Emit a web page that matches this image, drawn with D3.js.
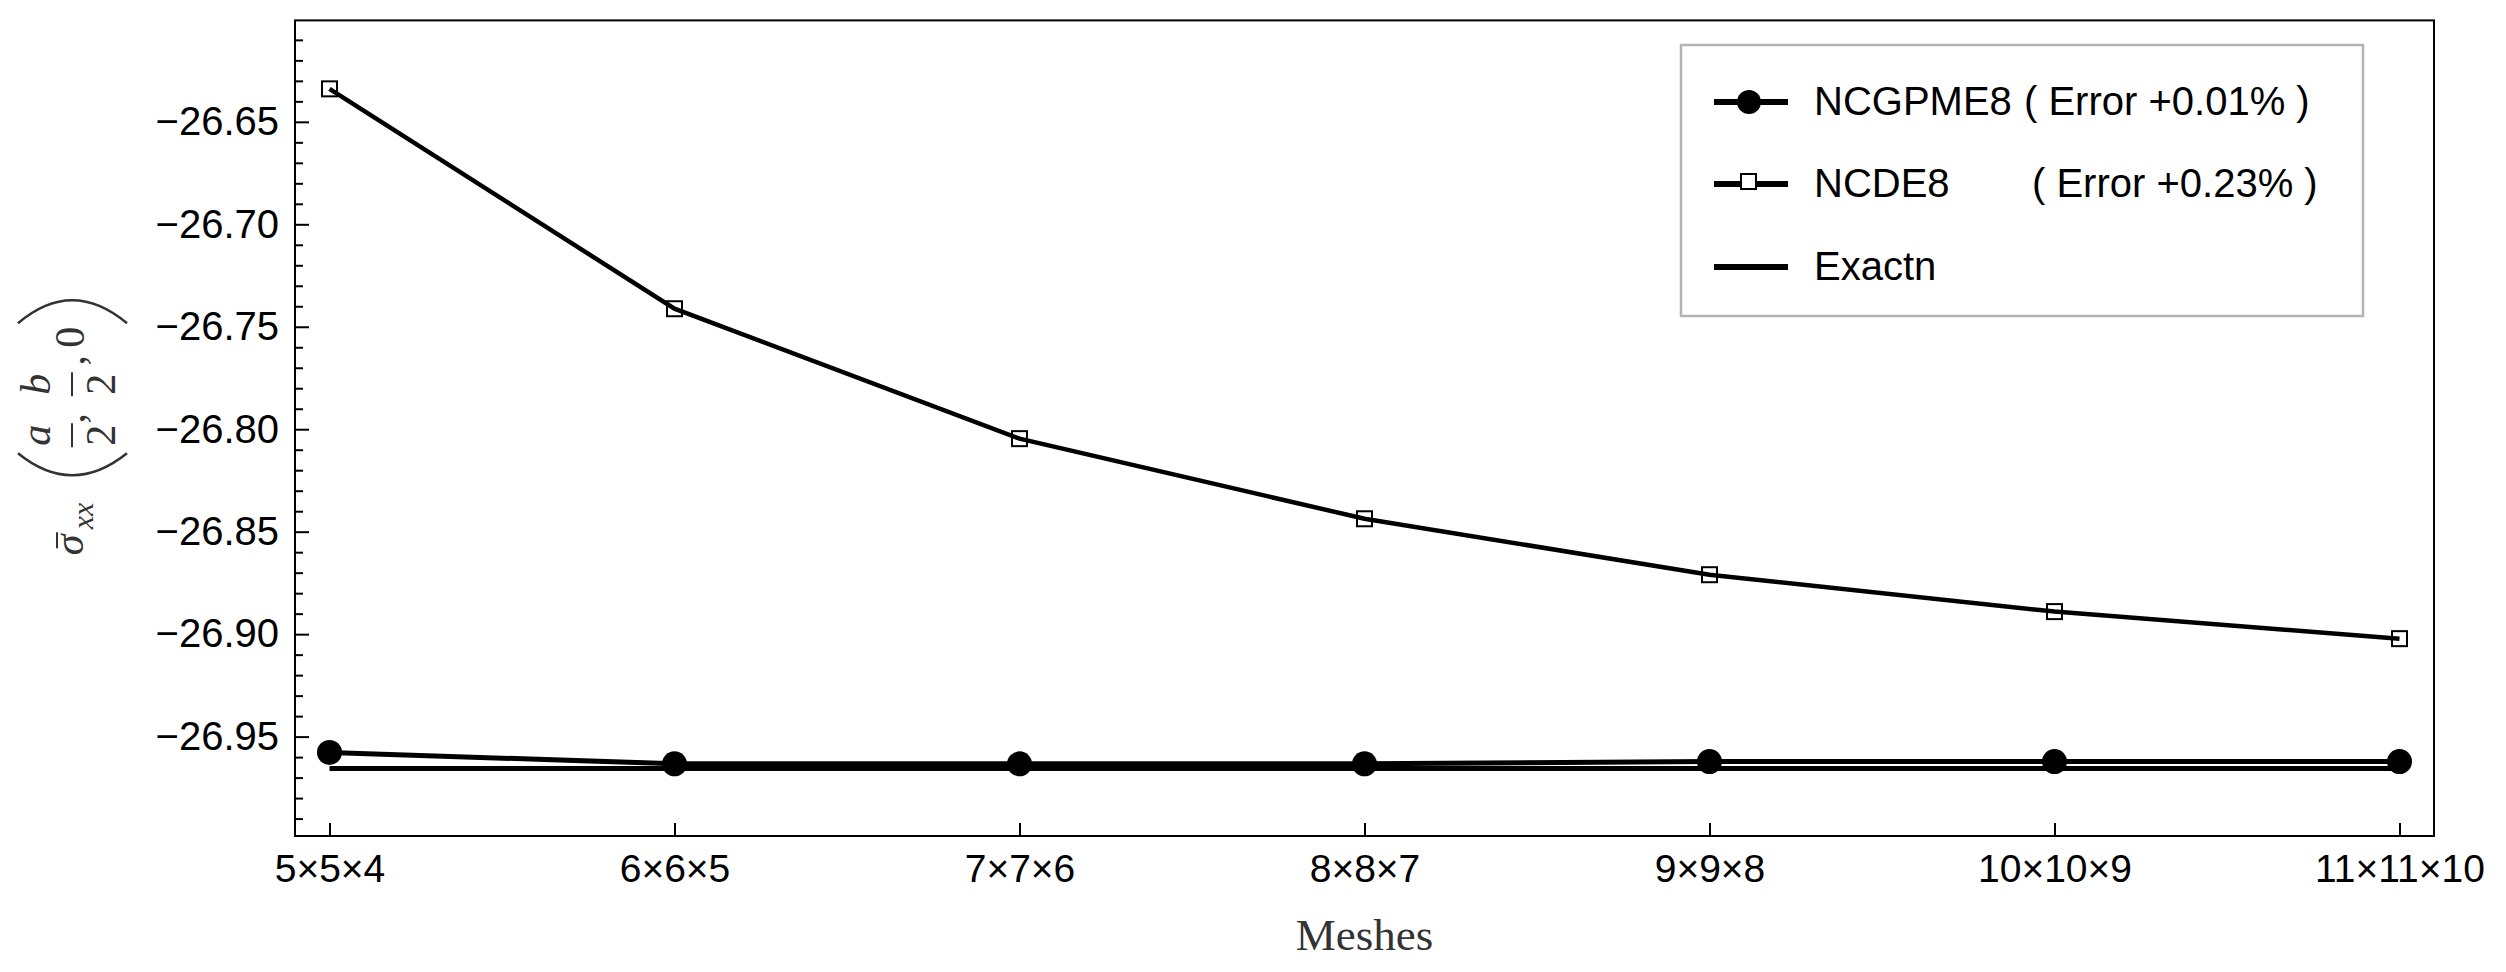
<!DOCTYPE html>
<html>
<head>
<meta charset="utf-8">
<script src="https://cdn.jsdelivr.net/npm/d3@7"></script>
<style>
  body { margin: 0; background: #fff; }
  svg { display: block; }
</style>
</head>
<body>
<div id="chart"></div>
<script>
// values
const meshes = ["5×5×4", "6×6×5", "7×7×6", "8×8×7", "9×9×8", "10×10×9", "11×11×10"];
const ncgpme8 = [-26.9577, -26.9633, -26.9633, -26.9633, -26.9622, -26.9622, -26.9622];
const ncde8 = [-26.6339, -26.7412, -26.8046, -26.8437, -26.8710, -26.8890, -26.9022];
const exactn = [-26.9656, -26.9656, -26.9656, -26.9656, -26.9656, -26.9656, -26.9656];
const yTicks = [-26.95, -26.90, -26.85, -26.80, -26.75, -26.70, -26.65];
const legendNames = ["NCGPME8", "NCDE8", "Exactn"];
const legendNotes = ["( Error +0.01% )", "( Error +0.23% )", ""];

const W = 2506, H = 972;
const plot = { left: 295, right: 2434, top: 20.4, bottom: 836 };

const svg = d3.select("#chart").append("svg")
    .attr("width", W)
    .attr("height", H);

const x = d3.scalePoint()
    .domain(d3.range(meshes.length))
    .range([plot.left, plot.right])
    .padding(0.1);

const y = d3.scaleLinear()
    .domain([-26.9985, -26.6005])
    .range([plot.bottom, plot.top]);

const sansFont = "'Liberation Sans', Arial, sans-serif";
const serifFont = "'Liberation Serif', 'Times New Roman', serif";

// minor y ticks every 0.01
const minorTicks = d3.range(-26.99, -26.605, 0.01)
    .map(v => +v.toFixed(2))
    .filter(v => !yTicks.some(t => Math.abs(t - v) < 1e-6));

svg.append("g")
    .attr("transform", `translate(${plot.left},0)`)
    .call(d3.axisLeft(y).tickValues(minorTicks).tickSizeInner(-8).tickSizeOuter(0).tickFormat(""))
    .call(g => g.select(".domain").remove())
    .call(g => g.selectAll("line").attr("stroke", "#000").attr("stroke-width", 2));

// major y ticks
svg.append("g")
    .attr("transform", `translate(${plot.left},0)`)
    .call(d3.axisLeft(y).tickValues(yTicks).tickSizeInner(-14).tickSizeOuter(0)
        .tickPadding(16).tickFormat(d3.format(".2f")))
    .call(g => g.select(".domain").remove())
    .call(g => g.selectAll("line").attr("stroke", "#000").attr("stroke-width", 2))
    .call(g => g.selectAll("text")
        .attr("fill", "#000")
        .style("font-family", sansFont)
        .style("font-size", "40px"));

// x axis
svg.append("g")
    .attr("transform", `translate(0,${plot.bottom})`)
    .call(d3.axisBottom(x).tickSizeInner(-13).tickSizeOuter(0).tickPadding(18)
        .tickFormat(i => meshes[i]))
    .call(g => g.select(".domain").remove())
    .call(g => g.selectAll("line").attr("stroke", "#000").attr("stroke-width", 2))
    .call(g => g.selectAll("text")
        .attr("fill", "#000")
        .style("font-family", sansFont)
        .style("font-size", "39px"));

// frame
svg.append("rect")
    .attr("x", plot.left)
    .attr("y", plot.top)
    .attr("width", plot.right - plot.left)
    .attr("height", plot.bottom - plot.top)
    .attr("fill", "none")
    .attr("stroke", "#000")
    .attr("stroke-width", 2);

const line = d3.line()
    .x((d, i) => x(i))
    .y(d => y(d));

// exact solution
svg.append("path")
    .datum(exactn)
    .attr("d", line)
    .attr("fill", "none")
    .attr("stroke", "#000")
    .attr("stroke-width", 5);

// NCGPME8
svg.append("path")
    .datum(ncgpme8)
    .attr("d", line)
    .attr("fill", "none")
    .attr("stroke", "#000")
    .attr("stroke-width", 5);

svg.append("g")
    .selectAll("circle")
    .data(ncgpme8)
    .join("circle")
    .attr("cx", (d, i) => x(i))
    .attr("cy", d => y(d))
    .attr("r", 12.5)
    .attr("fill", "#000");

// NCDE8
svg.append("path")
    .datum(ncde8)
    .attr("d", line)
    .attr("fill", "none")
    .attr("stroke", "#000")
    .attr("stroke-width", 4.5);

svg.append("g")
    .selectAll("rect")
    .data(ncde8)
    .join("rect")
    .attr("x", (d, i) => x(i) - 7.5)
    .attr("y", d => y(d) - 7.5)
    .attr("width", 15)
    .attr("height", 15)
    .attr("fill", "none")
    .attr("stroke", "#000")
    .attr("stroke-width", 2);

// legend
const legend = svg.append("g");
legend.append("rect")
    .attr("x", 1681)
    .attr("y", 45)
    .attr("width", 682)
    .attr("height", 271)
    .attr("fill", "#fff")
    .attr("stroke", "#b4b4b4")
    .attr("stroke-width", 2.5);

const rowY = [102, 184, 267];
legendNames.forEach((name, i) => {
    const g = legend.append("g").attr("transform", `translate(0,${rowY[i]})`);
    g.append("line")
        .attr("x1", 1714).attr("x2", 1788)
        .attr("y1", 0).attr("y2", 0)
        .attr("stroke", "#000")
        .attr("stroke-width", 6);
    if (i === 0) {
        g.append("circle").attr("cx", 1749).attr("cy", 0).attr("r", 12).attr("fill", "#000");
    } else if (i === 1) {
        g.append("rect").attr("x", 1741).attr("y", -10).attr("width", 15).attr("height", 15)
            .attr("fill", "#fff").attr("stroke", "#000").attr("stroke-width", 2);
    }
    const t = g.append("text")
        .attr("y", 13)
        .style("font-family", sansFont)
        .style("font-size", "40px")
        .attr("fill", "#000");
    t.append("tspan").attr("x", 1814).text(name);
    if (legendNotes[i]) {
        t.append("tspan").attr("x", i === 0 ? 2024 : 2032).text(legendNotes[i]);
    }
});

// x axis title
svg.append("text")
    .attr("x", (plot.left + plot.right) / 2)
    .attr("y", 950)
    .attr("text-anchor", "middle")
    .style("font-family", serifFont)
    .style("font-size", "45px")
    .attr("fill", "#333")
    .text("Meshes");

// y axis title: sigma-bar_xx (a/2, b/2, 0), rotated
const yl = svg.append("g")
    .attr("transform", `translate(0,${(plot.top + plot.bottom) / 2}) rotate(-90)`)
    .attr("fill", "#333")
    .style("font-family", serifFont);

yl.append("text").attr("x", -127).attr("y", 83)
    .style("font-size", "42px").style("font-style", "italic").text("σ");
yl.append("line").attr("x1", -120).attr("x2", -104).attr("y1", 57).attr("y2", 57)
    .attr("stroke", "#333").attr("stroke-width", 2);
yl.append("text").attr("x", -101).attr("y", 93)
    .style("font-size", "30px").style("font-style", "italic").text("xx");
yl.append("path").attr("d", "M-25,18 Q-69,72 -25,127")
    .attr("fill", "none").attr("stroke", "#333").attr("stroke-width", 2.5);
yl.append("path").attr("d", "M105,18 Q151,72 105,127")
    .attr("fill", "none").attr("stroke", "#333").attr("stroke-width", 2.5);

[["a", -7], ["b", 44]].forEach(([sym, u]) => {
    yl.append("text").attr("x", u).attr("y", 50).attr("text-anchor", "middle")
        .style("font-size", "42px").style("font-style", "italic").text(sym);
    yl.append("line").attr("x1", u - 12).attr("x2", u + 12).attr("y1", 72).attr("y2", 72)
        .attr("stroke", "#333").attr("stroke-width", 2);
    yl.append("text").attr("x", u).attr("y", 115).attr("text-anchor", "middle")
        .style("font-size", "42px").text("2");
});
yl.append("text").attr("x", 10).attr("y", 84).attr("text-anchor", "middle")
    .style("font-size", "42px").text(",");
yl.append("text").attr("x", 68).attr("y", 84).attr("text-anchor", "middle")
    .style("font-size", "42px").text(",");
yl.append("text").attr("x", 91).attr("y", 84).attr("text-anchor", "middle")
    .style("font-size", "42px").text("0");
</script>
</body>
</html>
